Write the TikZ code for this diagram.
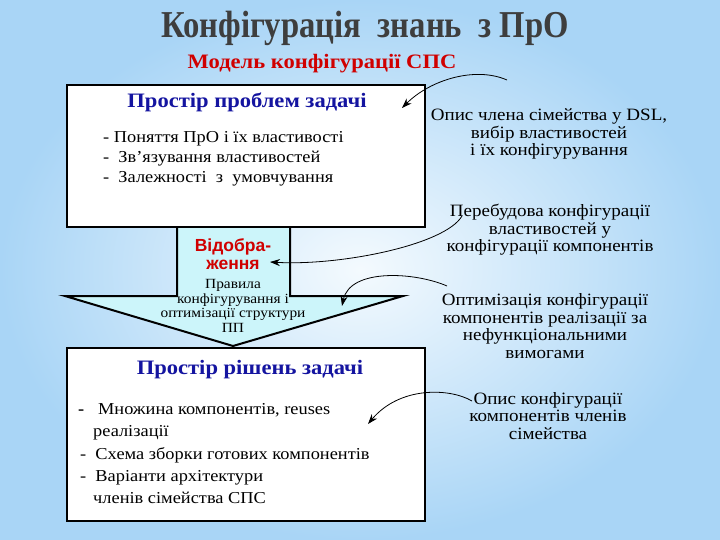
\documentclass[tikz,border=0pt]{standalone}
\usepackage{fontspec}
\setmainfont{Liberation Serif}[FakeStretch=1.1]
\newfontfamily\titlefont{Liberation Serif}[FakeStretch=0.86]
\newfontfamily\arialfont{Liberation Sans}
\usetikzlibrary{arrows.meta}
\definecolor{bgedge}{HTML}{A9D5F6}
\definecolor{bgmid}{HTML}{F4FAFE}
\definecolor{titlegray}{HTML}{3E3E3E}
\definecolor{subred}{HTML}{D00000}
\definecolor{headblue}{HTML}{1414A0}
\definecolor{mapfill}{HTML}{CCF5FA}
\tikzset{
  box/.style={draw=black, line width=2pt, fill=white},
  head/.style={font=\fontsize{20.5}{22}\selectfont\bfseries, text=headblue},
  item/.style={font=\fontsize{16.7}{20}\selectfont, anchor=west, inner sep=0pt},
  note/.style={font=\fontsize{17.3}{17.5}\selectfont, align=center},
  link/.style={-{Stealth[length=10pt,width=7pt]}, line width=0.8pt},
}

\begin{document}
\begin{tikzpicture}[x=1pt,y=-1pt]
    \shade[inner color=bgmid, outer color=bgedge] (0,0) rectangle (720,540);
    \useasboundingbox (0,0) rectangle (720,540);
    \node[font=\titlefont\fontsize{38}{40}\selectfont\bfseries, text=titlegray] (title) at (365,28) {Конфігурація\ \ знань\ \ з ПрО};
    \node[font=\fontsize{20.5}{22}\selectfont\bfseries, text=subred] (model) at (322,64) {Модель конфігурації СПС};

    % mapping arrow between the two spaces
    \draw[line width=2pt, fill=mapfill] (177,227) -- (177,296) -- (65,296) -- (233,346) -- (403,296) -- (290,296) -- (290,227);
    \node[font=\arialfont\bfseries\fontsize{17.5}{18.5}\selectfont, text=subred, align=center] (mapping) at (233,254) {Відобра-\\ження};
    \node[font=\fontsize{14}{14.5}\selectfont, align=center] (rules) at (233,306) {Правила\\конфігурування і\\оптимізації структури\\ПП};

    % problem space
    \draw[box] (67,85) rectangle (425,227);
    \node[head] (problem) at (247,102) {Простір проблем задачі};
    \node[item] (p1) at (103,139) {- Поняття ПрО і їх властивості};
    \node[item] (p2) at (103,159) {-\ \ Зв’язування властивостей};
    \node[item] (p3) at (103,179) {-\ \ Залежності\ \ з\ \ умовчування};

    % solution space
    \draw[box] (67,348) rectangle (425,521);
    \node[head] (solution) at (250,370) {Простір рішень задачі};
    \node[item] (s1) at (78,410) {{\bfseries -}\ \ \ Множина компонентів, reuses};
    \node[item] (s2) at (93,433) {реалізації};
    \node[item] (s3) at (80,455) {-\ \ Схема зборки готових компонентів};
    \node[item] (s4) at (80,478) {-\ \ Варіанти архітектури};
    \node[item] (s5) at (93,498) {членів сімейства СПС};

    % notes on the right
    \node[note] (dsl) at (549,134) {Опис члена сімейства у DSL,\\вибір властивостей\\і їх конфігурування};
    \node[note] (rebuild) at (550,230) {Перебудова конфігурації\\властивостей у\\конфігурації компонентів};
    \node[note] (optim) at (545,326) {Оптимізація конфігурації\\компонентів реалізації за\\нефункціональними\\вимогами};
    \node[note] (family) at (548,416) {Опис конфігурації\\компонентів членів\\сімейства};

    \coordinate (dslfrom) at (507,80);
    \coordinate (dslto) at (402,108);
    \coordinate (rebuildfrom) at (462,216);
    \coordinate (rebuildto) at (270,262);
    \coordinate (optimfrom) at (447,286);
    \coordinate (optimto) at (342,306);
    \coordinate (familyfrom) at (472,401);
    \coordinate (familyto) at (368,424);
    \draw[link] (dslfrom) .. controls (475,66) and (430,80) .. (dslto);
    \draw[link] (rebuildfrom) .. controls (445,245) and (340,266) .. (rebuildto);
    \draw[link] (optimfrom) .. controls (415,272) and (350,268) .. (optimto);
    \draw[link] (familyfrom) .. controls (450,388) and (400,386) .. (familyto);
\end{tikzpicture}
\end{document}
